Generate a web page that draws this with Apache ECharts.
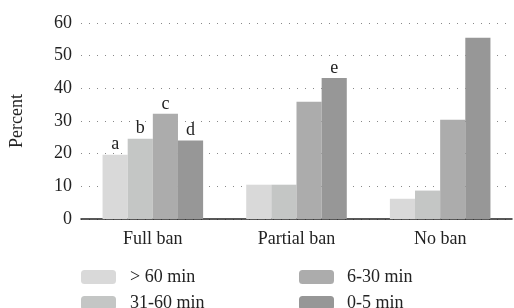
<!DOCTYPE html>
<html>
<head>
<meta charset="utf-8">
<title>Ban chart</title>
<script src="https://cdn.jsdelivr.net/npm/echarts@6/dist/echarts.min.js"></script>
</head>
<body style="margin:0">
<div id="container" style="width:514px;height:308px"></div>
<script>
var categories = ['Full ban', 'Partial ban', 'No ban'];
var seriesNames = ['> 60 min', '31-60 min', '6-30 min', '0-5 min'];
var over60 = [19.7, 10.5, 6.2];
var min31to60 = [24.6, 10.5, 8.7];
var min6to30 = [32.2, 35.9, 30.4];
var min0to5 = [24.0, 43.2, 55.5];
var letters = [['a', '', ''], ['b', '', ''], ['c', '', ''], ['d', 'e', '']];
var colors = ['#d9d9d9', '#c4c6c5', '#acacac', '#979797'];
var yTicks = [0, 10, 20, 30, 40, 50, 60];

var font = 'Liberation Serif';
var fs = 18;
var allData = [over60, min31to60, min6to30, min0to5];

var series = allData.map(function (vals, i) {
    return {
        name: seriesNames[i],
        type: 'bar',
        data: vals,
        barGap: '0%',
        barCategoryGap: '30%',
        itemStyle: {color: colors[i]},
        label: {
            show: true,
            position: 'top',
            distance: 1,
            color: '#222',
            fontFamily: font,
            fontSize: fs,
            formatter: function (p) { return letters[i][p.dataIndex]; }
        }
    };
});

// one legend per item so the 2x2 grid sits where the reference has it
var legendPos = [[81, 268, 9], [81, 294, 9], [299, 268, 8], [299, 294, 8]];
var legends = seriesNames.map(function (name, i) {
    return {
        data: [name],
        left: legendPos[i][0], top: legendPos[i][1],
        padding: 0,
        itemWidth: 35, itemHeight: 14,
        textStyle: {fontFamily: font, fontSize: fs, color: '#222',
                    padding: [0, 0, 0, legendPos[i][2]]}
    };
});

var chart = echarts.init(document.getElementById('container'));
chart.setOption({
    animation: false,
    color: colors,
    textStyle: {fontFamily: font},
    grid: {left: 81, right: 2, top: 23, bottom: 89},
    legend: legends,
    xAxis: {
        type: 'category',
        data: categories,
        axisLine: {lineStyle: {color: '#222', width: 1.5}},
        axisTick: {show: false},
        axisLabel: {color: '#222', fontFamily: font, fontSize: fs, margin: 11}
    },
    yAxis: {
        type: 'value',
        min: yTicks[0], max: yTicks[yTicks.length - 1], interval: 10,
        name: 'Percent',
        nameLocation: 'middle',
        nameGap: 55,
        nameTextStyle: {color: '#222', fontFamily: font, fontSize: fs},
        axisLine: {show: false},
        axisTick: {show: false},
        axisLabel: {color: '#222', fontFamily: font, fontSize: fs, margin: 9},
        splitLine: {lineStyle: {color: '#888', type: [1, 7], width: 1}}
    },
    series: series
});
</script>
</body>
</html>
